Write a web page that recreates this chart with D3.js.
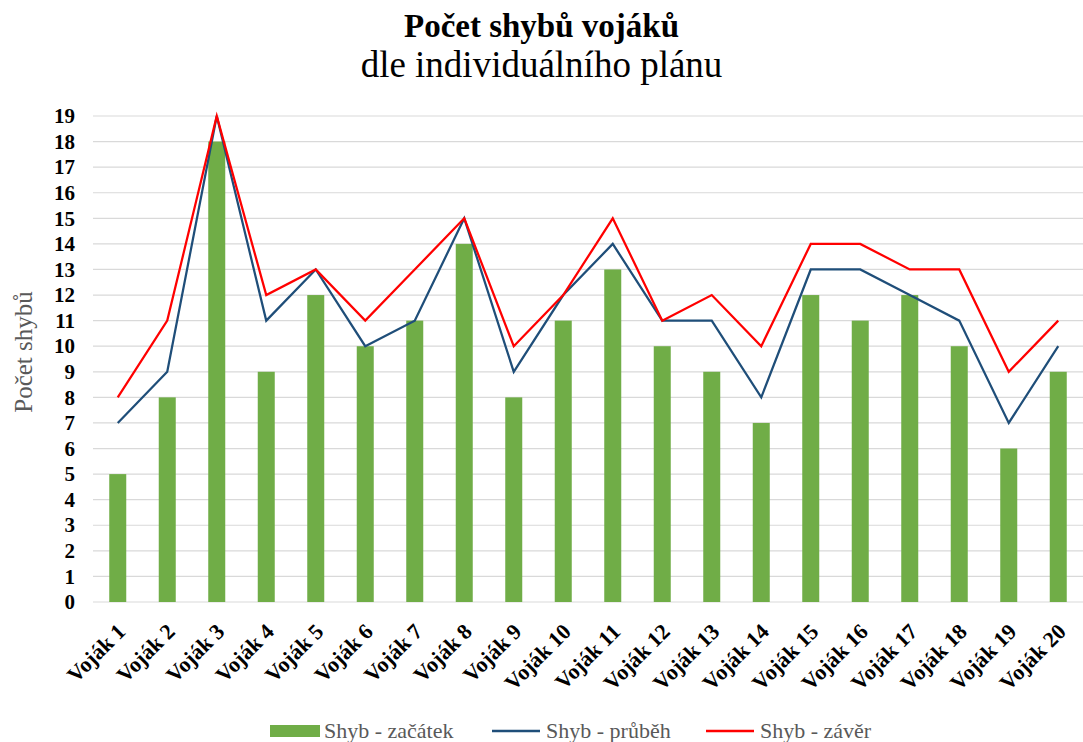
<!DOCTYPE html>
<html>
<head>
<meta charset="utf-8">
<script src="https://cdn.jsdelivr.net/npm/d3@7"></script>
<style>
  body { margin: 0; background: #fff; }
  svg text { font-family: "Liberation Serif", "Times New Roman", serif; }
</style>
</head>
<body>
<div id="chart"></div>
<script>
var svgWidth = 1083;
var svgHeight = 742;

var margin = { top: 116, right: 0, left: 93, bottom: 140 };
var width = svgWidth - margin.left - margin.right;
var height = svgHeight - margin.top - margin.bottom;

// data
var soldiers = d3.range(1, 21).map(i => "Voják " + i);
var startVals = [5, 8, 18, 9, 12, 10, 11, 14, 8, 11, 13, 10, 9, 7, 12, 11, 12, 10, 6, 9];
var midVals = [7, 9, 19, 11, 13, 10, 11, 15, 9, 12, 14, 11, 11, 8, 13, 13, 12, 11, 7, 10];
var endVals = [8, 11, 19, 12, 13, 11, 13, 15, 10, 12, 15, 11, 12, 10, 14, 14, 13, 13, 9, 11];
var yTicks = d3.range(0, 20);
var seriesNames = ["Shyb - začátek", "Shyb - průběh", "Shyb - závěr"];

var serif = "Liberation Serif";

var svg = d3.select("#chart")
  .append("svg")
  .attr("width", svgWidth)
  .attr("height", svgHeight);

var chartGroup = svg.append("g")
  .attr("transform", `translate(${margin.left}, ${margin.top})`);

var x = d3.scaleBand()
  .domain(soldiers)
  .range([0, width]);

var y = d3.scaleLinear()
  .domain([0, 19])
  .range([height, 0]);

// gridlines
chartGroup.selectAll(".grid")
  .data(yTicks)
  .enter()
  .append("line")
  .attr("x1", 0)
  .attr("x2", width)
  .attr("y1", d => y(d))
  .attr("y2", d => y(d))
  .attr("stroke", "#d9d9d9")
  .attr("stroke-width", 1.2);

// y axis
var leftAxis = d3.axisLeft(y).tickValues(yTicks).tickSize(0).tickPadding(18);
var yAxis = chartGroup.append("g").call(leftAxis);
yAxis.select(".domain").remove();
yAxis.selectAll("text")
  .attr("font-family", serif)
  .attr("font-size", "21px")
  .attr("font-weight", "bold")
  .attr("fill", "#000");

// x axis
var bottomAxis = d3.axisBottom(x).tickSize(0).tickPadding(0);
var xAxis = chartGroup.append("g")
  .attr("transform", `translate(0, ${height})`)
  .call(bottomAxis);
xAxis.select(".domain").remove();
xAxis.selectAll("text")
  .attr("font-family", serif)
  .attr("font-size", "22px")
  .attr("font-weight", "bold")
  .attr("fill", "#000")
  .attr("text-anchor", "end")
  .attr("y", 0)
  .attr("dy", 0)
  .attr("transform", "translate(9, 31) rotate(-45)");

// bars
var barW = 17;
chartGroup.selectAll(".bar")
  .data(startVals)
  .enter()
  .append("rect")
  .attr("x", (d, i) => x(soldiers[i]) + x.bandwidth() / 2 - barW / 2)
  .attr("y", d => y(d))
  .attr("width", barW)
  .attr("height", d => height - y(d))
  .style("fill", "#70ad47");

// lines
var line = d3.line()
  .x((d, i) => x(soldiers[i]) + x.bandwidth() / 2)
  .y(d => y(d));

chartGroup.append("path")
  .datum(midVals)
  .attr("d", line)
  .attr("fill", "none")
  .attr("stroke", "#1f4e79")
  .attr("stroke-width", 2.25);

chartGroup.append("path")
  .datum(endVals)
  .attr("d", line)
  .attr("fill", "none")
  .attr("stroke", "#ff0000")
  .attr("stroke-width", 2.25);

// axis title
svg.append("text")
  .attr("transform", "rotate(-90)")
  .attr("x", -352)
  .attr("y", 32)
  .attr("text-anchor", "middle")
  .attr("font-family", serif)
  .attr("font-size", "25px")
  .attr("fill", "#595959")
  .text("Počet shybů");

// titles
svg.append("text")
  .attr("x", svgWidth / 2)
  .attr("y", 37)
  .attr("text-anchor", "middle")
  .attr("font-family", serif)
  .attr("font-size", "33px")
  .attr("font-weight", "bold")
  .text("Počet shybů vojáků");

svg.append("text")
  .attr("x", svgWidth / 2)
  .attr("y", 77)
  .attr("text-anchor", "middle")
  .attr("font-family", serif)
  .attr("font-size", "37px")
  .text("dle individuálního plánu");

// legend
var legendX = [270, 492, 706];
var legend = svg.selectAll(".legend")
  .data(seriesNames)
  .enter()
  .append("g")
  .attr("transform", (d, i) => `translate(${legendX[i]}, 731)`);

legend.each(function(d, i) {
  var g = d3.select(this);
  if (i === 0) {
    g.append("rect").attr("x", 0).attr("y", -6).attr("width", 50).attr("height", 12).attr("fill", "#70ad47");
  } else {
    g.append("line").attr("x1", 0).attr("x2", 48).attr("y1", 0).attr("y2", 0)
      .attr("stroke", i === 1 ? "#1f4e79" : "#ff0000").attr("stroke-width", 2.5);
  }
  g.append("text")
    .attr("x", 54)
    .attr("y", 0)
    .attr("dy", "0.33em")
    .attr("font-family", serif)
    .attr("font-size", "22px")
    .attr("fill", "#595959")
    .text(d);
});
</script>
</body>
</html>
